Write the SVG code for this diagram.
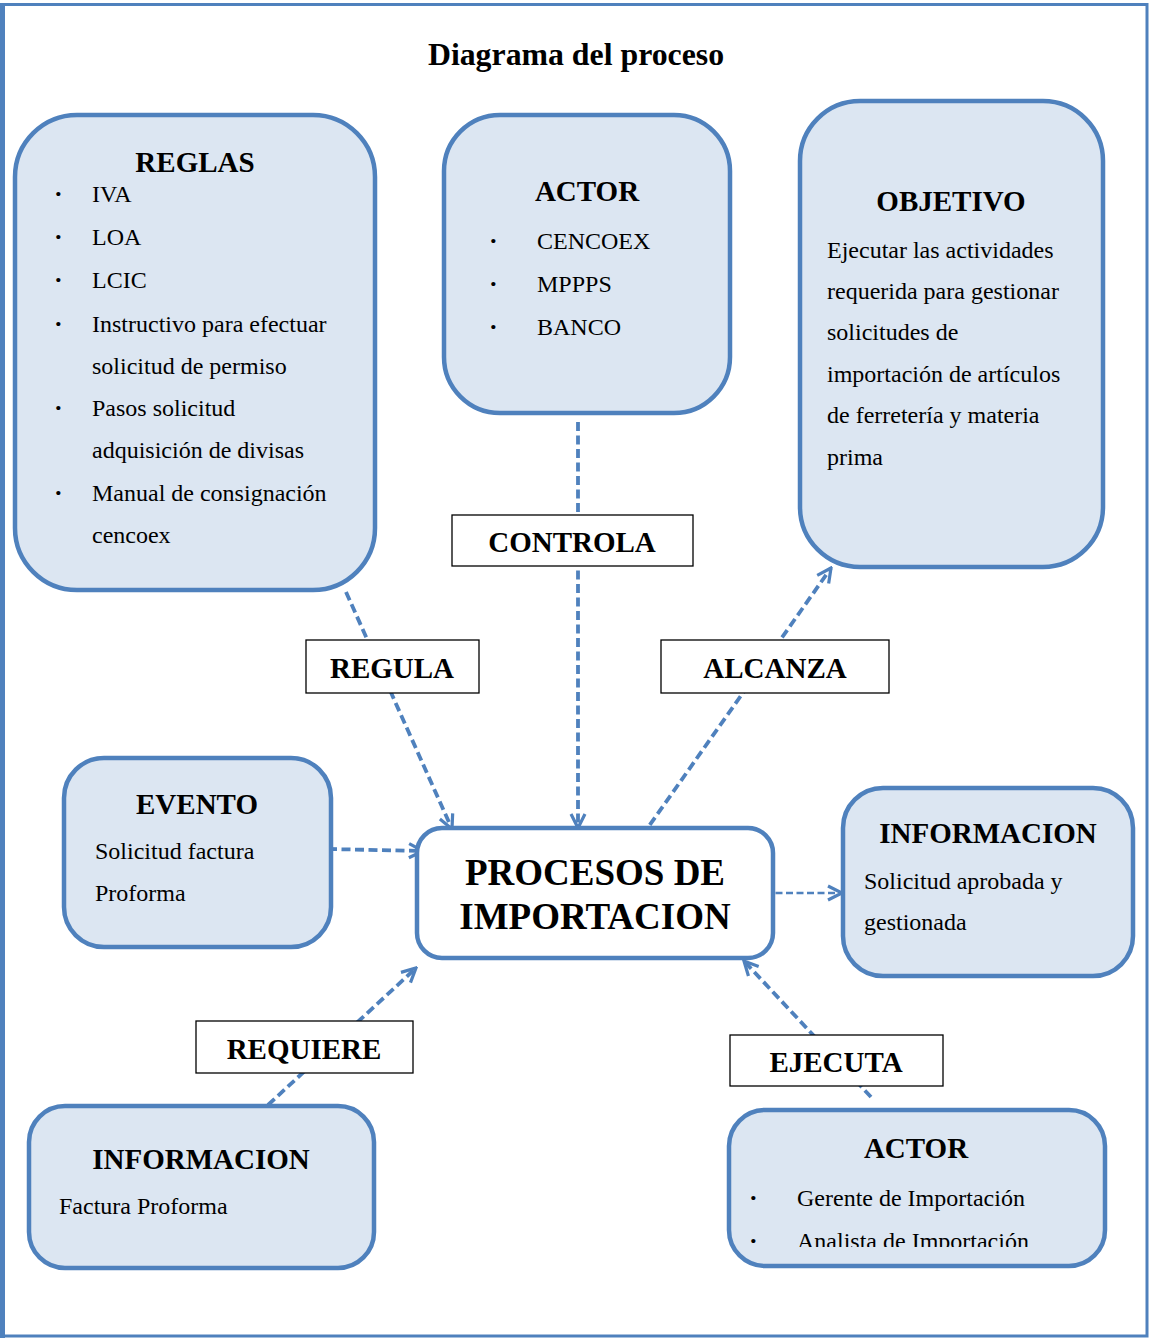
<svg xmlns="http://www.w3.org/2000/svg" width="1150" height="1338" viewBox="0 0 1150 1338">
<style>
text{font-family:"Liberation Serif","Times New Roman",serif;fill:#000}
.node{fill:#dce6f2;stroke:#4f81bd;stroke-width:4.5}
.main{fill:#fff;stroke:#4f81bd;stroke-width:4.5}
.h{font-weight:bold;font-size:29px;text-anchor:middle}
.t{font-size:24px}
.b{font-size:26px;font-weight:bold}
.lab{fill:#fff;stroke:#000;stroke-width:1.3}
.lt{font-weight:bold;font-size:29px;text-anchor:middle}
.c{fill:none;stroke:#4f81bd;stroke-width:3.8;stroke-dasharray:9 4.5}
.c2{fill:none;stroke:#4f81bd;stroke-width:2.7;stroke-dasharray:7 3.5}
</style>
<defs>
<marker id="ah" viewBox="0 0 18 18" refX="16" refY="9" markerWidth="18" markerHeight="18" markerUnits="userSpaceOnUse" orient="auto">
<path d="M2,2 L16,9 L2,16" fill="none" stroke="#4f81bd" stroke-width="3.2"/>
</marker>
<clipPath id="clipA"><rect x="730" y="1110" width="380" height="137"/></clipPath>
</defs>
<rect width="1150" height="1338" fill="#fff"/>
<rect x="3.5" y="4.5" width="1143.5" height="1331.5" fill="none" stroke="#4f81bd" stroke-width="3"/>
<line x1="2.5" y1="3" x2="2.5" y2="1338" stroke="#4f81bd" stroke-width="5"/>
<text x="576" y="65" font-weight="bold" font-size="31.8" text-anchor="middle">Diagrama del proceso</text>

<g id="connectors">
<line class="c" x1="578" y1="422" x2="578" y2="828" marker-end="url(#ah)"/>
<line class="c" x1="346" y1="592" x2="452" y2="829" marker-end="url(#ah)"/>
<line class="c" x1="642" y1="836" x2="831" y2="568" marker-end="url(#ah)"/>
<line class="c" x1="328" y1="849" x2="423" y2="851" marker-end="url(#ah)"/>
<line class="c2" x1="765" y1="893" x2="842" y2="893" marker-end="url(#ah)"/>
<line class="c" x1="268" y1="1105" x2="416" y2="968" marker-end="url(#ah)"/>
<line class="c" x1="871" y1="1097" x2="744" y2="961" marker-end="url(#ah)"/>
</g>

<g id="reglas">
<rect class="node" x="15" y="115" width="360" height="475" rx="62"/>
<text class="h" x="195" y="172">REGLAS</text>
<g class="b"><text x="54" y="202">·</text><text x="54" y="245">·</text><text x="54" y="288">·</text><text x="54" y="332">·</text><text x="54" y="416">·</text><text x="54" y="501">·</text></g>
<g class="t">
<text x="92" y="202">IVA</text>
<text x="92" y="245">LOA</text>
<text x="92" y="288">LCIC</text>
<text x="92" y="332">Instructivo para efectuar</text>
<text x="92" y="374">solicitud de permiso</text>
<text x="92" y="416">Pasos solicitud</text>
<text x="92" y="458">adquisición de divisas</text>
<text x="92" y="501">Manual de consignación</text>
<text x="92" y="543">cencoex</text>
</g>
</g>

<g id="actor-top">
<rect class="node" x="444" y="115" width="286" height="298" rx="56"/>
<text class="h" x="587" y="201">ACTOR</text>
<g class="b"><text x="489" y="249">·</text><text x="489" y="292">·</text><text x="489" y="335">·</text></g>
<g class="t">
<text x="537" y="249">CENCOEX</text>
<text x="537" y="292">MPPPS</text>
<text x="537" y="335">BANCO</text>
</g>
</g>

<g id="objetivo">
<rect class="node" x="800" y="101" width="303" height="466" rx="60"/>
<text class="h" x="951" y="211">OBJETIVO</text>
<g class="t">
<text x="827" y="258">Ejecutar las actividades</text>
<text x="827" y="299">requerida para gestionar</text>
<text x="827" y="340">solicitudes de</text>
<text x="827" y="382">importación de artículos</text>
<text x="827" y="423">de ferretería y materia</text>
<text x="827" y="465">prima</text>
</g>
</g>

<g id="lbl-controla"><rect class="lab" x="452" y="515" width="241" height="51"/><text class="lt" x="572" y="552">CONTROLA</text></g>
<g id="lbl-regula"><rect class="lab" x="306" y="640" width="173" height="53"/><text class="lt" x="392" y="678">REGULA</text></g>
<g id="lbl-alcanza"><rect class="lab" x="661" y="640" width="228" height="53"/><text class="lt" x="775" y="678">ALCANZA</text></g>

<g id="evento">
<rect class="node" x="64" y="758" width="267" height="189" rx="40"/>
<text class="h" x="197" y="814">EVENTO</text>
<g class="t">
<text x="95" y="859">Solicitud factura</text>
<text x="95" y="901">Proforma</text>
</g>
</g>

<g id="procesos">
<rect class="main" x="417" y="828" width="356" height="130" rx="25"/>
<text x="595" y="885" font-weight="bold" font-size="37" text-anchor="middle">PROCESOS DE</text>
<text x="595" y="929" font-weight="bold" font-size="37" text-anchor="middle">IMPORTACION</text>
</g>

<g id="info-right">
<rect class="node" x="843" y="788" width="290" height="188" rx="40"/>
<text class="h" x="988" y="843">INFORMACION</text>
<g class="t">
<text x="864" y="889">Solicitud aprobada y</text>
<text x="864" y="930">gestionada</text>
</g>
</g>

<g id="lbl-requiere"><rect class="lab" x="196" y="1021" width="217" height="52"/><text class="lt" x="304" y="1059">REQUIERE</text></g>
<g id="lbl-ejecuta"><rect class="lab" x="730" y="1035" width="213" height="51"/><text class="lt" x="836" y="1072">EJECUTA</text></g>

<g id="info-left">
<rect class="node" x="29" y="1106" width="345" height="162" rx="36"/>
<text class="h" x="201" y="1169">INFORMACION</text>
<text class="t" x="59" y="1214">Factura Proforma</text>
</g>

<g id="actor-bottom">
<rect class="node" x="729" y="1110" width="376" height="156" rx="36"/>
<text class="h" x="916" y="1158">ACTOR</text>
<g clip-path="url(#clipA)">
<g class="b"><text x="749" y="1206">·</text><text x="749" y="1249">·</text></g>
<g class="t">
<text x="797" y="1206">Gerente de Importación</text>
<text x="797" y="1249">Analista de Importación</text>
</g>
</g>
</g>
</svg>
